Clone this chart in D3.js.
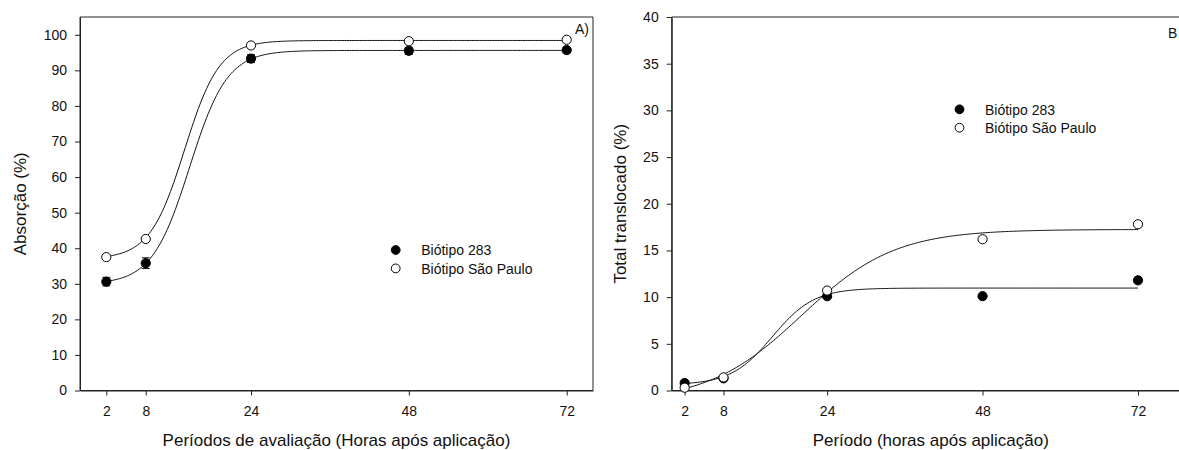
<!DOCTYPE html>
<html><head><meta charset="utf-8">
<script src="https://cdn.jsdelivr.net/npm/d3@7"></script>
<style>
html,body{margin:0;padding:0;background:#fff;}
svg{display:block;font-family:"Liberation Sans",Arial,sans-serif;}
</style></head>
<body><svg id="c" width="1179" height="450"></svg>
<script>
// ---- data ----
const hours = [2, 8, 24, 48, 72];
const xTicks = [2, 8, 24, 48, 72];
// Panel A: absorption (%)
const absB283 = [30.6, 35.8, 93.3, 95.5, 95.7];
const absSP   = [37.5, 42.6, 97.0, 98.2, 98.6];
const errB283 = [1.2, 1.5, 1.1, 1.0, 0.8];
const errSP   = [0.5, 0.6, 0.7, 0.5, 0.5];
const yTicksA = [0,10,20,30,40,50,60,70,80,90,100];
// Panel B: total translocated (%)
const trB283 = [0.8, 1.3, 10.1, 10.1, 11.8];
const trSP   = [0.3, 1.4, 10.7, 16.2, 17.8];
const yTicksB = [0,5,10,15,20,25,30,35,40];
// fitted sigmoid parameters [y0, a, x0, b]
const fitA283 = [29.9, 65.7, 14.66, 2.86];
const fitASP  = [37.0, 61.4, 13.9, 2.65];
const fitB283 = [0.6, 10.37, 15.57, 3.21];
const fitBSP  = [-1.2, 18.45, 20.03, 7.21];
const legendLabels = ["Biótipo 283", "Biótipo São Paulo"];

const svg = d3.select("#c");
const FONT = "Liberation Sans, Arial, sans-serif";

function sig(p){ return x => p[0] + p[1]/(1+Math.exp(-(x-p[2])/p[3])); }

function panel(o){
  const g = svg.append("g");
  const x = d3.scaleLinear().domain(o.xdom).range([o.left, o.right]);
  const y = d3.scaleLinear().domain(o.ydom).range([o.bottom, o.top]);

  // frame
  g.append("path")
    .attr("d", `M${o.left},${o.bottom}V${o.top}H${o.right}V${o.bottom}Z`)
    .attr("fill","none").attr("stroke","#222").attr("stroke-width",1);

  const xa = g.append("g").attr("transform",`translate(0,${o.bottom})`)
    .call(d3.axisBottom(x).tickValues(xTicks).tickSize(5).tickPadding(10.5).tickSizeOuter(0));
  const ya = g.append("g").attr("transform",`translate(${o.left},0)`)
    .call(d3.axisLeft(y).tickValues(o.yticks).tickSize(5).tickPadding(8).tickSizeOuter(0));
  [xa, ya].forEach(a => {
    a.select(".domain").attr("stroke","#222");
    a.selectAll(".tick line").attr("stroke","#222");
    a.selectAll("text").attr("font-family",FONT).attr("font-size",14).attr("fill","#111");
  });

  // curves
  const xs = d3.range(2, 72.001, 0.25);
  const line = d3.line().x(d=>x(d[0])).y(d=>y(d[1]));
  o.fits.forEach(p => {
    const f = sig(p);
    g.append("path").datum(xs.map(v=>[v,f(v)]))
      .attr("d", line).attr("fill","none").attr("stroke","#111").attr("stroke-width",1);
  });

  // error bars
  if (o.errs) {
    o.series.forEach((s,si) => {
      const e = o.errs[si];
      hours.forEach((h,i) => {
        const cx = x(h), y1 = y(s[i]-e[i]), y2 = y(s[i]+e[i]);
        g.append("line").attr("x1",cx).attr("x2",cx).attr("y1",y1).attr("y2",y2).attr("stroke","#111");
        [y1,y2].forEach(yy => g.append("line").attr("x1",cx-4).attr("x2",cx+4).attr("y1",yy).attr("y2",yy).attr("stroke","#111"));
      });
    });
  }

  // points: filled then open
  o.series.forEach((s,si) => {
    g.selectAll(null).data(hours).enter().append("circle")
      .attr("cx", d=>x(d)).attr("cy",(d,i)=>y(s[i])).attr("r",4.6)
      .attr("fill", si===0 ? "#000" : "#fff").attr("stroke","#000").attr("stroke-width",1);
  });

  // legend
  legendLabels.forEach((lab,i) => {
    const ly = o.legY + i*18.4;
    g.append("circle").attr("cx",o.legX).attr("cy",ly).attr("r",4.4)
      .attr("fill", i===0 ? "#000" : "#fff").attr("stroke","#000");
    g.append("text").attr("x",o.legX+25.5).attr("y",ly+5.2).text(lab)
      .attr("font-family",FONT).attr("font-size",14).attr("fill","#111");
  });

  // axis titles
  g.append("text").attr("x",(o.left+o.xTitleRight)/2).attr("y",446).attr("text-anchor","middle")
    .attr("font-family",FONT).attr("font-size",17).attr("fill","#111").text(o.xtitle);
  g.append("text").attr("transform",`translate(${o.ytitleX},${(o.top+o.bottom)/2}) rotate(-90)`)
    .attr("text-anchor","middle").attr("font-family",FONT).attr("font-size",17).attr("fill","#111").text(o.ytitle);

  // panel label
  g.append("text").attr("x",o.labX).attr("y",o.labY).attr("font-family",FONT).attr("font-size",14)
    .attr("fill","#111").text(o.label);
}

panel({
  left:80, right:593, top:17, bottom:390.5,
  xdom:[-2,76], ydom:[0,105], yticks:yTicksA,
  series:[absB283, absSP], errs:[errB283, errSP],
  fits:[fitA283, fitASP],
  legX:395.7, legY:250,
  xtitle:"Períodos de avaliação (Horas após aplicação)", xTitleRight:593,
  ytitle:"Absorção (%)", ytitleX:25.5,
  label:"A)", labX:575, labY:34
});

panel({
  left:671.7, right:1189.8, top:17, bottom:390.5,
  xdom:[0,80], ydom:[0,40], yticks:yTicksB,
  series:[trB283, trSP], errs:null,
  fits:[fitB283, fitBSP],
  legX:959.5, legY:109.3,
  xtitle:"Período (horas após aplicação)", xTitleRight:1189.8,
  ytitle:"Total translocado (%)", ytitleX:625.5,
  label:"B", labX:1168, labY:38
});
</script></body></html>
